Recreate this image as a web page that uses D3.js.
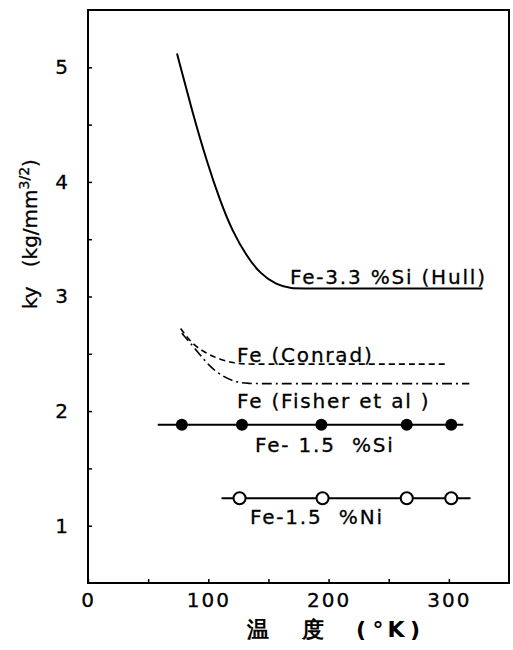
<!DOCTYPE html>
<html>
<head>
<meta charset="utf-8">
<script src="https://cdn.jsdelivr.net/npm/d3@7"></script>
<style>
  body { margin: 0; background: #fff; }
  text { font-family: "DejaVu Sans", sans-serif; fill: #000; }
</style>
</head>
<body>
<svg id="chart"></svg>
<script>
// temperatures (K) and ky values
var hullT = [74, 87, 99, 110, 120, 132, 143, 157, 168, 185, 328];
var hullK = [5.12, 4.60, 4.17, 3.83, 3.57, 3.35, 3.20, 3.10, 3.07, 3.07, 3.07];

var conradT = [77, 87, 99, 110, 121, 130, 145, 298];
var conradK = [2.72, 2.58, 2.50, 2.45, 2.42, 2.41, 2.41, 2.41];

var fisherT = [78, 91, 101, 112, 124, 133, 148, 317];
var fisherK = [2.68, 2.52, 2.39, 2.30, 2.25, 2.24, 2.24, 2.24];

var siT = [78, 128, 194, 265, 302];
var siK = [1.88, 1.88, 1.88, 1.88, 1.88];
var siLine = [58, 312];

var niT = [126, 195, 265, 302];
var niK = [1.24, 1.24, 1.24, 1.24];
var niLine = [111, 318];

var xTicks = [0, 100, 200, 300];
var xMinor = [50, 150, 250];
var yTicks = [1, 2, 3, 4, 5];
var yMinor = [1.5, 2.5, 3.5, 4.5];

var width = 513, height = 650,
    margin = {top: 10, right: 4, bottom: 67, left: 88};

var svg = d3.select("#chart").attr("width", width).attr("height", height);

var xScale = d3.scaleLinear().domain([0, 350]).range([margin.left, width - margin.right]);
var yScale = d3.scaleLinear().domain([0.5, 5.5]).range([height - margin.bottom, margin.top]);

// frame
svg.append("rect")
    .attr("x", xScale(0)).attr("y", yScale(5.5))
    .attr("width", xScale(350) - xScale(0))
    .attr("height", yScale(0.5) - yScale(5.5))
    .attr("fill", "none").attr("stroke", "#000").attr("stroke-width", 2);

// axes with inward ticks
var xAxis = d3.axisBottom(xScale).tickValues(xTicks).tickSize(-4).tickPadding(10)
    .tickFormat(d3.format("d"));
var xAxisG = svg.append("g").attr("transform", "translate(0," + yScale(0.5) + ")").call(xAxis);
svg.append("g").attr("transform", "translate(0," + yScale(0.5) + ")")
    .call(d3.axisBottom(xScale).tickValues(xMinor).tickSize(-4).tickFormat(""));

var yAxis = d3.axisLeft(yScale).tickValues(yTicks).tickSize(-4).tickPadding(20)
    .tickFormat(d3.format("d"));
var yAxisG = svg.append("g").attr("transform", "translate(" + xScale(0) + ",0)").call(yAxis);
svg.append("g").attr("transform", "translate(" + xScale(0) + ",0)")
    .call(d3.axisLeft(yScale).tickValues(yMinor).tickSize(-4).tickFormat(""));

svg.selectAll(".domain").remove();
svg.selectAll(".tick line").attr("stroke", "#000").attr("stroke-width", 1.5);
xAxisG.selectAll("text").attr("font-size", 20).attr("font-family", "DejaVu Sans")
    .attr("letter-spacing", 2).attr("stroke", "#000").attr("stroke-width", 0.3);
yAxisG.selectAll("text").attr("font-size", 20).attr("font-family", "DejaVu Sans")
    .attr("stroke", "#000").attr("stroke-width", 0.3);

// axis titles
var xTitle = [
    {t: "温", x: 258}, {t: "度", x: 313}, {t: "(", x: 361},
    {t: "°", x: 378}, {t: "K", x: 396}, {t: ")", x: 415}
];
svg.selectAll(".xt").data(xTitle).enter().append("text")
    .attr("class", "xt")
    .attr("x", function (d) { return d.x; })
    .attr("y", 637)
    .attr("text-anchor", "middle")
    .attr("font-family", "'Noto Sans CJK JP', sans-serif")
    .attr("font-weight", "bold")
    .attr("font-size", 22)
    .text(function (d) { return d.t; });

var yTitle = svg.append("text")
    .attr("transform", "translate(37,309) rotate(-90)")
    .attr("text-anchor", "start")
    .attr("font-size", 20)
    .attr("stroke", "#000").attr("stroke-width", 0.3)
    .attr("xml:space", "preserve");
yTitle.append("tspan").text("ky   (kg/mm");
yTitle.append("tspan").attr("dy", -8).attr("font-size", 14).text("3/2");
yTitle.append("tspan").attr("dy", 8).text(")");

// curves
var line = d3.line()
    .x(function (d) { return xScale(d[0]); })
    .y(function (d) { return yScale(d[1]); })
    .curve(d3.curveBasis);

function pairs(a, b) {
    return a.map(function (t, i) { return [t, b[i]]; });
}

svg.append("path").datum(pairs(hullT, hullK))
    .attr("d", line).attr("fill", "none").attr("stroke", "#000").attr("stroke-width", 2);

svg.append("path").datum(pairs(conradT, conradK))
    .attr("d", line).attr("fill", "none").attr("stroke", "#000").attr("stroke-width", 1.6)
    .attr("stroke-dasharray", "6,4");

svg.append("path").datum(pairs(fisherT, fisherK))
    .attr("d", line).attr("fill", "none").attr("stroke", "#000").attr("stroke-width", 1.6)
    .attr("stroke-dasharray", "10,4,2,4");

// Fe-1.5%Si
svg.append("line")
    .attr("x1", xScale(siLine[0])).attr("x2", xScale(siLine[1]))
    .attr("y1", yScale(siK[0])).attr("y2", yScale(siK[0]))
    .attr("stroke", "#000").attr("stroke-width", 2);
svg.selectAll(".si").data(pairs(siT, siK)).enter().append("circle")
    .attr("class", "si")
    .attr("cx", function (d) { return xScale(d[0]); })
    .attr("cy", function (d) { return yScale(d[1]); })
    .attr("r", 6).attr("fill", "#000");

// Fe-1.5%Ni
svg.append("line")
    .attr("x1", xScale(niLine[0])).attr("x2", xScale(niLine[1]))
    .attr("y1", yScale(niK[0])).attr("y2", yScale(niK[0]))
    .attr("stroke", "#000").attr("stroke-width", 2);
svg.selectAll(".ni").data(pairs(niT, niK)).enter().append("circle")
    .attr("class", "ni")
    .attr("cx", function (d) { return xScale(d[0]); })
    .attr("cy", function (d) { return yScale(d[1]); })
    .attr("r", 6).attr("fill", "#fff").attr("stroke", "#000").attr("stroke-width", 2);

// curve labels
var labels = [
    {text: "Fe-3.3 %Si (Hull)", x: 290, y: 284},
    {text: "Fe (Conrad)", x: 237, y: 362},
    {text: "Fe (Fisher et al )", x: 237, y: 408},
    {text: "Fe- 1.5  %Si", x: 255, y: 452},
    {text: "Fe-1.5  %Ni", x: 250, y: 524}
];
svg.selectAll(".lbl").data(labels).enter().append("text")
    .attr("class", "lbl")
    .attr("x", function (d) { return d.x; })
    .attr("y", function (d) { return d.y; })
    .attr("font-size", 20)
    .attr("letter-spacing", 1.8)
    .attr("stroke", "#000").attr("stroke-width", 0.3)
    .attr("xml:space", "preserve")
    .text(function (d) { return d.text; });
</script>
</body>
</html>
